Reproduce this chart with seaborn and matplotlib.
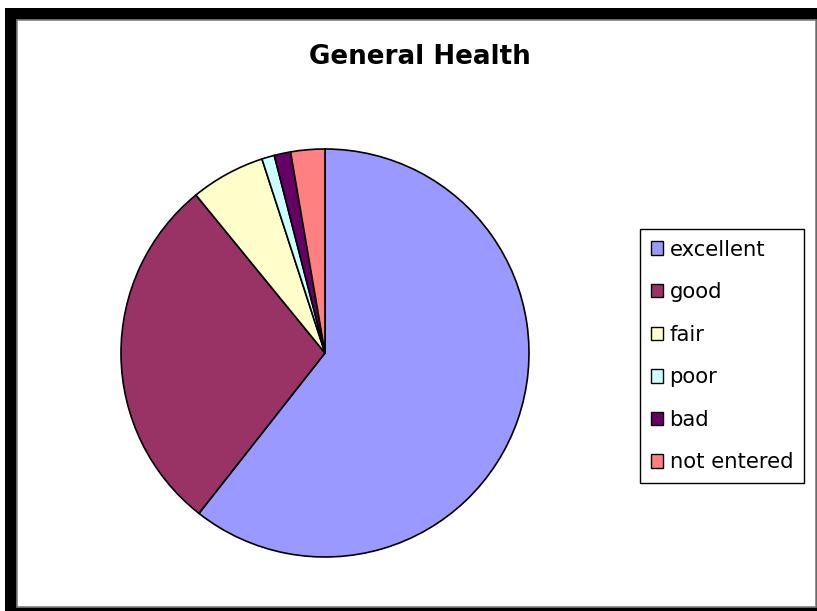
import matplotlib
matplotlib.use("Agg")
import matplotlib.pyplot as plt
from matplotlib.patches import Rectangle, Patch
import seaborn as sns

# General health survey responses (percent of respondents)
categories = ["excellent", "good", "fair", "poor", "bad", "not entered"]
shares = [60.6, 28.5, 5.9, 1.0, 1.3, 2.7]
colors = ["#9999FF", "#993366", "#FFFFCC", "#CCFFFF", "#660066", "#FF8080"]

sns.set_theme(style="white")
plt.rcParams["font.family"] = ["DejaVu Sans"]
plt.rcParams["text.color"] = "black"

W, H = 817, 611
fig = plt.figure(figsize=(W / 100, H / 100), dpi=100)
fig.patch.set_facecolor("white")


def fx(px):
    return px / W


def fy(py):
    return 1 - py / H


# black drop-shadow frame with a white chart area on top
fig.patches.append(Rectangle((fx(5), 0), 1 - fx(5), fy(8), transform=fig.transFigure,
                             facecolor="black", edgecolor="none", zorder=-3))
fig.patches.append(Rectangle((fx(16.5), fy(606.5)), fx(815.5) - fx(16.5), fy(19.5) - fy(606.5),
                             transform=fig.transFigure, facecolor="white",
                             edgecolor="#808080", linewidth=1.2, zorder=-2))

cx, cy, r = 325, 353, 204
ax = fig.add_axes([fx(cx - r), fy(cy + r), 2 * r / W, 2 * r / H])
palette = sns.color_palette(colors)
wedges, _ = ax.pie(shares, colors=palette, startangle=90, counterclock=False,
                   wedgeprops=dict(edgecolor="black", linewidth=1.2))
ax.set_xlim(-1, 1)
ax.set_ylim(-1, 1)

fig.text(fx(420), fy(57.5), "General Health", ha="center", va="center",
         fontsize=18.8, fontweight="bold", color="black")

handles = [Patch(facecolor=c, edgecolor="black", linewidth=1.0) for c in palette]
leg = fig.legend(handles, categories, loc="upper left",
                 bbox_to_anchor=(fx(640), fy(229)), frameon=True, fancybox=False,
                 edgecolor="black", fontsize=15.2, handlelength=0.6, handleheight=0.6,
                 handletextpad=0.3, labelspacing=1.07, borderpad=0.5, borderaxespad=0,
                 labelcolor="black")
leg.get_frame().set_linewidth(1.0)
leg.get_frame().set_facecolor("white")
leg.get_frame().set_alpha(1.0)

fig.savefig("out.png", dpi=100, facecolor="white")
